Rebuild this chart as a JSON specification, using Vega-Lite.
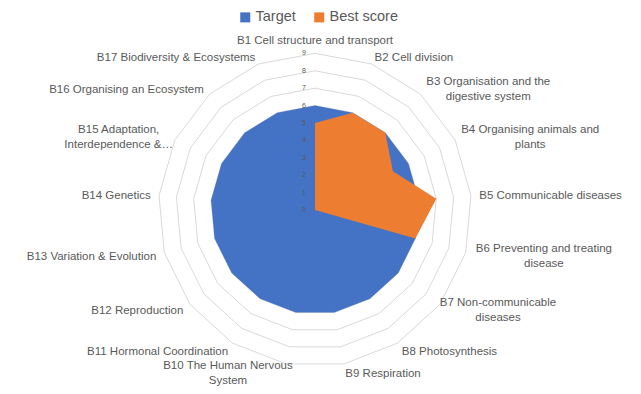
{
  "$schema": "https://vega.github.io/schema/vega-lite/v6.json",
  "width": 641,
  "height": 394,
  "autosize": "none",
  "padding": 0,
  "background": "white",
  "config": {"view": {"stroke": null}, "font": "Liberation Sans"},
  "datasets": {
    "cats": [
      {"category": "B1 Cell structure and transport", "Target": 6, "Best score": 5},
      {"category": "B2 Cell division", "Target": 6, "Best score": 6},
      {"category": "B3 Organisation and the\ndigestive system", "Target": 6, "Best score": 6},
      {"category": "B4 Organising animals and\nplants", "Target": 6, "Best score": 5},
      {"category": "B5 Communicable diseases", "Target": 6, "Best score": 7},
      {"category": "B6 Preventing and treating\ndisease", "Target": 6, "Best score": 6},
      {"category": "B7 Non-communicable\ndiseases", "Target": 6, "Best score": 0},
      {"category": "B8 Photosynthesis", "Target": 6, "Best score": 0},
      {"category": "B9 Respiration", "Target": 6, "Best score": 0},
      {"category": "B10 The Human Nervous\nSystem", "Target": 6, "Best score": 0},
      {"category": "B11 Hormonal Coordination", "Target": 6, "Best score": 0},
      {"category": "B12 Reproduction", "Target": 6, "Best score": 0},
      {"category": "B13 Variation & Evolution", "Target": 6, "Best score": 0},
      {"category": "B14 Genetics", "Target": 6, "Best score": 0},
      {"category": "B15 Adaptation,\nInterdependence &…", "Target": 6, "Best score": 0},
      {"category": "B16 Organising an Ecosystem", "Target": 6, "Best score": 0},
      {"category": "B17 Biodiversity & Ecosystems", "Target": 6, "Best score": 0}
    ],
    "levels": [
      {"level": 0}, {"level": 1}, {"level": 2}, {"level": 3}, {"level": 4},
      {"level": 5}, {"level": 6}, {"level": 7}, {"level": 8}, {"level": 9}
    ]
  },
  "layer": [
    {
      "data": {"name": "levels"},
      "transform": [
        {"filter": "datum.level >= 1"},
        {"calculate": "0", "as": "k"},
        {"impute": "v", "key": "k", "keyvals": [0,1,2,3,4,5,6,7,8,9,10,11,12,13,14,15,16], "groupby": ["level"], "value": 0},
        {"calculate": "datum.level * sin(datum.k * 2 * PI / 17)", "as": "px"},
        {"calculate": "datum.level * cos(datum.k * 2 * PI / 17)", "as": "py"}
      ],
      "mark": {"type": "line", "interpolate": "linear-closed", "stroke": "#D9D9D9", "strokeWidth": 1},
      "encoding": {
        "x": {"field": "px", "type": "quantitative", "scale": {"domain": [-18.103, 18.736], "nice": false, "zero": false}, "axis": null},
        "y": {"field": "py", "type": "quantitative", "scale": {"domain": [-10.575, 12.069], "nice": false, "zero": false}, "axis": null},
        "detail": {"field": "level", "type": "nominal"},
        "order": {"field": "k", "type": "quantitative"}
      }
    },
    {
      "data": {"name": "cats"},
      "transform": [
        {"window": [{"op": "row_number", "as": "idx"}]},
        {"fold": ["Target", "Best score"], "as": ["series", "value"]},
        {"filter": "datum.series === 'Target'"},
        {"calculate": "(datum.idx - 1) * 2 * PI / 17", "as": "a"},
        {"calculate": "datum.value * sin(datum.a)", "as": "px"},
        {"calculate": "datum.value * cos(datum.a)", "as": "py"}
      ],
      "mark": {"type": "line", "filled": true, "interpolate": "linear-closed", "strokeWidth": 0},
      "encoding": {
        "x": {"field": "px", "type": "quantitative", "axis": null},
        "y": {"field": "py", "type": "quantitative", "axis": null},
        "order": {"field": "idx", "type": "quantitative"},
        "color": {
          "field": "series", "type": "nominal",
          "scale": {"domain": ["Target", "Best score"], "range": ["#4472C4", "#ED7D31"]},
          "legend": {"orient": "none", "legendX": 238, "legendY": 10, "direction": "horizontal", "title": null,
            "symbolType": "square", "symbolSize": 100, "symbolStrokeWidth": 0, "labelFontSize": 14.5,
            "labelColor": "#595959", "columnPadding": 16, "labelOffset": 3, "padding": 0, "labelFont": "Liberation Sans"}
        }
      }
    },
    {
      "data": {"name": "cats"},
      "transform": [
        {"window": [{"op": "row_number", "as": "idx"}]},
        {"fold": ["Target", "Best score"], "as": ["series", "value"]},
        {"filter": "datum.series === 'Best score'"},
        {"calculate": "(datum.idx - 1) * 2 * PI / 17", "as": "a"},
        {"calculate": "datum.value * sin(datum.a)", "as": "px"},
        {"calculate": "datum.value * cos(datum.a)", "as": "py"}
      ],
      "mark": {"type": "line", "filled": true, "interpolate": "linear-closed", "strokeWidth": 0},
      "encoding": {
        "x": {"field": "px", "type": "quantitative", "axis": null},
        "y": {"field": "py", "type": "quantitative", "axis": null},
        "order": {"field": "idx", "type": "quantitative"},
        "color": {"field": "series", "type": "nominal"}
      }
    },
    {
      "data": {"name": "levels"},
      "mark": {"type": "text", "align": "right", "baseline": "middle", "dx": -9, "fontSize": 7, "color": "#595959"},
      "encoding": {
        "x": {"datum": 0, "type": "quantitative", "axis": null},
        "y": {"field": "level", "type": "quantitative", "axis": null},
        "text": {"field": "level", "type": "quantitative"}
      }
    },
    {
      "data": {"name": "cats"},
      "transform": [
        {"window": [{"op": "row_number", "as": "idx"}]},
        {"calculate": "(datum.idx - 1) * 2 * PI / 17", "as": "a"},
        {"calculate": "sin(datum.a)", "as": "s"},
        {"calculate": "cos(datum.a)", "as": "c"},
        {"calculate": "indexof(datum.category, '\\n') >= 0", "as": "multi"},
        {"calculate": "datum.multi ? max(length(split(datum.category, '\\n')[0]), length(split(datum.category, '\\n')[1])) * 5.4 / 2 / 17.4 : 0", "as": "hw"},
        {"calculate": "9.483 * datum.s + (datum.multi ? (datum.s > 0 ? 1 : -1) * datum.hw : 0)", "as": "lx"},
        {"calculate": "9.483 * datum.c + (datum.multi ? 7.5 / 17.4 : 0)", "as": "ly"}
      ],
      "mark": {
        "type": "text", "fontSize": 11.5, "color": "#595959", "lineBreak": "\n", "lineHeight": 15, "dy": 1.5,
        "align": {"expr": "datum.multi || abs(datum.s) < 0.05 ? 'center' : (datum.s > 0 ? 'left' : 'right')"},
        "baseline": {"expr": "datum.c > 0.99 ? 'bottom' : 'middle'"}
      },
      "encoding": {
        "x": {"field": "lx", "type": "quantitative", "axis": null},
        "y": {"field": "ly", "type": "quantitative", "axis": null},
        "text": {"field": "category", "type": "nominal"}
      }
    }
  ]
}
